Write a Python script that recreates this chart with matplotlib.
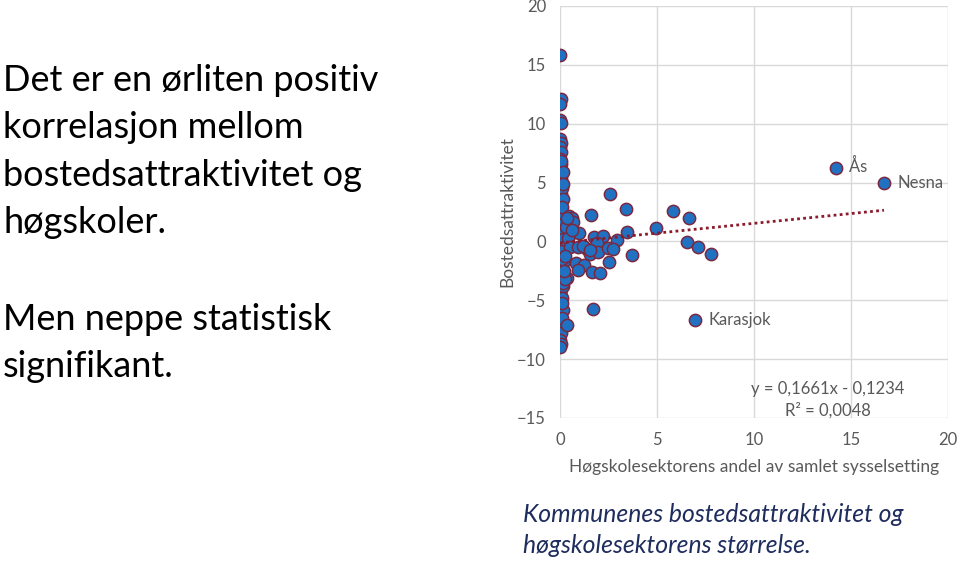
import matplotlib
matplotlib.use("Agg")
import matplotlib.pyplot as plt

plt.rcParams['font.family'] = ['Lato', 'DejaVu Sans']

# Column of municipalities with (almost) zero higher-education share
col_x = [0.0, 0.05, 0.0, 0.0, 0.05, 0.0, 0.05, 0.0, 0.05, 0.0,
         0.05, 0.0, 0.05, 0.0, 0.05, 0.0, 0.05, 0.0, 0.05, 0.0,
         0.05, 0.0, 0.05, 0.0, 0.05, 0.0, 0.05, 0.0, 0.05, 0.0,
         0.05, 0.0, 0.05, 0.0, 0.05, 0.0, 0.05, 0.0, 0.05, 0.0,
         0.05, 0.0, 0.05, 0.0, 0.05, 0.0, 0.05, 0.0, 0.05, 0.0,
         0.05, 0.0, 0.05, 0.0, 0.05, 0.0, 0.05, 0.0, 0.05, 0.0,
         0.15, 0.1, 0.15, 0.1, 0.15, 0.1, 0.15, 0.1, 0.15, 0.1,
         0.15, 0.1, 0.15, 0.1, 0.15, 0.1, 0.15, 0.1, 0.15, 0.1]
col_y = [15.8, 12.1, 11.7, 10.3, 10.1, 8.7, 8.4, 8.0, 7.6, 7.0,
         6.6, 6.3, 6.0, 5.7, 5.4, 5.0, 4.7, 4.4, 4.0, 3.7,
         3.4, 3.0, 2.7, 2.4, 2.0, 1.7, 1.4, 1.0, 0.7, 0.4,
         0.0, -0.3, -0.6, -1.0, -1.3, -1.6, -2.0, -2.3, -2.6, -3.0,
         -3.3, -3.6, -4.0, -4.3, -4.6, -5.0, -5.3, -5.6, -6.0, -6.3,
         -6.7, -7.0, -7.8, -8.4, -8.7, -9.0, 6.8, 5.2, 3.2, 1.2,
         5.9, 4.5, 3.6, 2.2, 1.5, 0.8, -0.2, -0.8, -1.8, -2.8,
         -3.8, -4.8, -5.8, -6.5, 4.9, 2.9, 0.2, -1.5, -3.5, -5.2]

# Municipalities with some higher-education employment
sp_x = [0.48, 0.63, 0.69, 0.72, 0.99, 0.35, 0.26, 0.38, 0.30, 0.40,
        0.50, 0.25, 0.35, 0.60, 0.20,
        1.60, 1.75, 2.23, 2.58, 3.40, 2.95, 0.94, 1.38, 1.55, 1.89,
        1.97, 2.49, 2.75, 3.44, 3.70, 2.54, 0.82, 1.25, 0.91, 1.66,
        2.06, 1.72, 4.95, 5.84, 6.63, 6.53, 7.11, 7.77, 1.20, 1.55]
sp_y = [2.20, 1.96, 1.67, 0.82, 0.74, -3.13, -3.22, -7.10, 1.20, 0.30,
        -0.50, -1.20, 2.00, 1.00, -2.50,
        2.27, 0.35, 0.46, 4.03, 2.78, 0.12, -0.45, -0.62, -1.07, -0.16,
        -0.88, -0.59, -0.65, 0.82, -1.18, -1.72, -1.86, -2.03, -2.43, -2.57,
        -2.66, -5.77, 1.11, 2.58, 1.96, -0.03, -0.50, -1.07, -0.40, -0.70]

# Labelled municipalities
lab_names = ["Ås", "Nesna", "Karasjok"]
lab_x = [14.23, 16.70, 6.96]
lab_y = [6.24, 4.96, -6.68]

slope = 0.1661
intercept = -0.1234

fig = plt.figure(figsize=(9.6, 5.61), dpi=100)
ax = fig.add_axes([560/960, 1-418/561, 388/960, 412/561])

face = '#2171C2'
edge = '#7A2941'
all_x = col_x + sp_x + lab_x
all_y = col_y + sp_y + lab_y
ax.scatter(all_x, all_y, s=78, c=face, edgecolors=edge, linewidths=1.1, zorder=3)

xmax = max(all_x)
ax.plot([0, xmax], [intercept, slope*xmax + intercept], linestyle=(0, (1, 1.2)),
        color='#8B1A2B', linewidth=2.0, zorder=4)

ax.set_xlim(0, 20)
ax.set_ylim(-15, 20)
ax.set_xticks([0, 5, 10, 15, 20])
ax.set_yticks([-15, -10, -5, 0, 5, 10, 15, 20])
ax.grid(True, color='#d9d9d9', linewidth=1.0, zorder=0)
for s in ax.spines.values():
    s.set_visible(False)
ax.tick_params(length=0, labelsize=12, labelcolor='#595959', pad=10)
ax.set_axisbelow(True)

gray = '#595959'
ax.set_xlabel("Høgskolesektorens andel av samlet sysselsetting", fontsize=12.5, color=gray, labelpad=8)
ax.set_ylabel("Bostedsattraktivitet", fontsize=12.5, color=gray)
ax.yaxis.set_label_coords(-0.115, 0.5)

offsets = [(9, 1), (10, 0), (10, 0)]
for n, x, y, (dx, dy) in zip(lab_names, lab_x, lab_y, offsets):
    ax.annotate(n, (x, y), xytext=(dx, dy), textcoords='offset points',
                fontsize=12, color=gray, va='center', ha='left')

ax.text(0.69, 0.044, "y = 0,1661x - 0,1234\nR² = 0,0048", transform=ax.transAxes,
        fontsize=12, color=gray, ha='center', va='center', linespacing=1.4)

fig.text(3/960, 1-64/561, "Det er en ørliten positiv\nkorrelasjon mellom\nbostedsattraktivitet og\nhøgskoler.",
         fontsize=26, color='black', ha='left', va='top', linespacing=1.53)
fig.text(3/960, 1-303/561, "Men neppe statistisk\nsignifikant.",
         fontsize=26, color='black', ha='left', va='top', linespacing=1.53)

fig.text(523/960, 1-530/561, "Kommunenes bostedsattraktivitet og\nhøgskolesektorens størrelse.",
         fontsize=17.8, color='#1F2D5E', style='italic', ha='left', va='center', linespacing=1.4)

fig.savefig("out.png", dpi=100)
